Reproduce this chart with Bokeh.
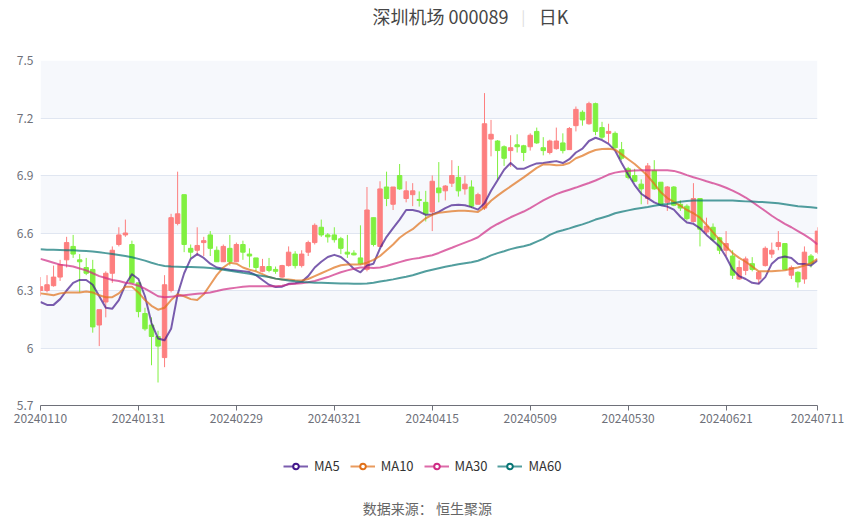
from bokeh.plotting import figure
from bokeh.layouts import column
from bokeh.models import (Range1d, FixedTicker, PrintfTickFormatter, Legend,
                          LegendItem, Label, ColumnDataSource)
from bokeh.embed import file_html
from bokeh.resources import INLINE

dates = [
    "20240110", "20240111", "20240112", "20240115", "20240116", "20240117", "20240118", "20240119",
    "20240122", "20240123", "20240124", "20240125", "20240126", "20240129", "20240130", "20240131",
    "20240201", "20240202", "20240205", "20240206", "20240207", "20240208", "20240219", "20240220",
    "20240221", "20240222", "20240223", "20240226", "20240227", "20240228", "20240229",
    "20240301", "20240304", "20240305", "20240306", "20240307", "20240308", "20240311", "20240312",
    "20240313", "20240314", "20240315", "20240318", "20240319", "20240320", "20240321",
    "20240322", "20240325", "20240326", "20240327", "20240328", "20240329",
    "20240401", "20240402", "20240403", "20240408", "20240409", "20240410", "20240411", "20240412",
    "20240415", "20240416", "20240417", "20240418", "20240419", "20240422", "20240423", "20240424",
    "20240425", "20240426", "20240429", "20240430",
    "20240506", "20240507", "20240508", "20240509", "20240510", "20240513", "20240514", "20240515",
    "20240516", "20240517", "20240520", "20240521", "20240522", "20240523", "20240524", "20240527",
    "20240528", "20240529", "20240530", "20240531",
    "20240603", "20240604", "20240605", "20240606", "20240607", "20240611", "20240612", "20240613",
    "20240614", "20240617", "20240618", "20240619", "20240620", "20240621", "20240624", "20240625",
    "20240626", "20240627", "20240628",
    "20240701", "20240702", "20240703", "20240704", "20240705", "20240708", "20240709", "20240710",
    "20240711",
]

open_ = [6.30, 6.30, 6.325, 6.37, 6.46, 6.53, 6.46, 6.42, 6.41, 6.12,
         6.24, 6.39, 6.54, 6.59, 6.54, 6.34, 6.18, 6.12, 6.06, 5.95,
         6.30, 6.65, 6.80, 6.52, 6.51, 6.55, 6.59, 6.51, 6.45, 6.52,
         6.45, 6.54, 6.49, 6.47, 6.40, 6.425, 6.41, 6.37, 6.43, 6.49,
         6.43, 6.50, 6.55, 6.63, 6.59, 6.59, 6.57, 6.50, 6.495, 6.47,
         6.41, 6.68, 6.53, 6.84, 6.75, 6.90, 6.78, 6.80, 6.775, 6.76,
         6.71, 6.835, 6.82, 6.86, 6.89, 6.83, 6.84, 6.75, 6.73, 7.09,
         7.08, 7.05, 7.03, 7.06, 7.055, 7.05, 7.13, 7.045, 7.02, 7.04,
         7.07, 7.035, 7.16, 7.23, 7.17, 7.275, 7.15, 7.12, 7.12, 7.035,
         6.935, 6.90, 6.855, 6.78, 6.925, 6.865, 6.76, 6.84, 6.75, 6.74,
         6.66, 6.78, 6.605, 6.63, 6.575, 6.51, 6.48, 6.36, 6.405, 6.44,
         6.36, 6.43, 6.49, 6.53, 6.545, 6.38, 6.395, 6.36, 6.48, 6.50]
high = [6.37, 6.38, 6.43, 6.46, 6.58, 6.59, 6.49, 6.47, 6.46, 6.20,
        6.40, 6.53, 6.63, 6.67, 6.56, 6.34, 6.21, 6.16, 6.09, 6.38,
        6.70, 6.92, 6.80, 6.54, 6.63, 6.58, 6.61, 6.53, 6.54, 6.59,
        6.55, 6.56, 6.52, 6.47, 6.465, 6.47, 6.425, 6.434, 6.53, 6.505,
        6.51, 6.56, 6.65, 6.67, 6.60, 6.63, 6.58, 6.59, 6.51, 6.64,
        6.84, 6.68, 6.87, 6.92, 6.84, 6.96, 6.87, 6.86, 6.817, 6.82,
        6.90, 6.97, 6.85, 6.98, 6.95, 6.90, 6.875, 6.81, 7.33, 7.19,
        7.085, 7.057, 7.11, 7.115, 7.06, 7.12, 7.15, 7.10, 7.087, 7.15,
        7.12, 7.153, 7.26, 7.24, 7.285, 7.28, 7.18, 7.17, 7.13, 7.075,
        6.945, 6.935, 6.88, 6.965, 6.98, 6.865, 6.845, 6.845, 6.77, 6.75,
        6.86, 6.78, 6.68, 6.65, 6.58, 6.61, 6.51, 6.457, 6.477, 6.474,
        6.40, 6.53, 6.55, 6.61, 6.545, 6.43, 6.40, 6.53, 6.49, 6.63]
low = [6.27, 6.29, 6.32, 6.35, 6.42, 6.47, 6.29, 6.38, 6.08, 6.01,
       6.16, 6.34, 6.53, 6.58, 6.34, 6.16, 6.09, 5.91, 5.82, 5.90,
       6.29, 6.64, 6.50, 6.47, 6.48, 6.48, 6.48, 6.45, 6.45, 6.43,
       6.45, 6.46, 6.42, 6.40, 6.395, 6.395, 6.387, 6.366, 6.425, 6.415,
       6.42, 6.48, 6.54, 6.58, 6.55, 6.55, 6.49, 6.47, 6.483, 6.435,
       6.40, 6.53, 6.53, 6.74, 6.72, 6.825, 6.76, 6.74, 6.738, 6.66,
       6.61, 6.76, 6.77, 6.84, 6.79, 6.80, 6.73, 6.75, 6.72, 7.00,
       6.88, 6.95, 6.945, 7.02, 6.975, 7.03, 7.065, 7.005, 7.01, 7.035,
       7.015, 7.035, 7.13, 7.16, 7.165, 7.11, 7.09, 7.07, 7.04, 6.98,
       6.88, 6.865, 6.75, 6.75, 6.825, 6.745, 6.715, 6.74, 6.715, 6.665,
       6.655, 6.53, 6.595, 6.557, 6.49, 6.48, 6.36, 6.355, 6.38, 6.40,
       6.335, 6.425, 6.47, 6.51, 6.41, 6.36, 6.315, 6.335, 6.42, 6.49]
close = [6.32, 6.33, 6.37, 6.435, 6.55, 6.49, 6.45, 6.39, 6.11, 6.20,
         6.39, 6.51, 6.59, 6.60, 6.34, 6.19, 6.10, 6.06, 6.01, 6.33,
         6.68, 6.70, 6.54, 6.50, 6.535, 6.56, 6.52, 6.45, 6.53, 6.45,
         6.54, 6.50, 6.48, 6.42, 6.425, 6.405, 6.40, 6.43, 6.50, 6.43,
         6.49, 6.55, 6.64, 6.59, 6.58, 6.565, 6.52, 6.49, 6.486, 6.44,
         6.72, 6.54, 6.83, 6.78, 6.84, 6.83, 6.82, 6.82, 6.77, 6.70,
         6.87, 6.81, 6.845, 6.90, 6.82, 6.855, 6.74, 6.80, 7.17, 7.115,
         7.03, 6.99, 7.045, 7.05, 7.02, 7.11, 7.07, 7.03, 7.08, 7.08,
         7.03, 7.145, 7.245, 7.19, 7.275, 7.13, 7.10, 7.13, 7.045, 6.99,
         6.89, 6.87, 6.83, 6.95, 6.83, 6.75, 6.84, 6.745, 6.73, 6.675,
         6.78, 6.62, 6.635, 6.565, 6.51, 6.545, 6.38, 6.42, 6.465, 6.41,
         6.395, 6.52, 6.51, 6.55, 6.41, 6.42, 6.345, 6.50, 6.44, 6.61]

ma5 = [6.24, 6.225, 6.225, 6.255, 6.30, 6.34, 6.355, 6.355, 6.33, 6.27,
       6.21, 6.205, 6.25, 6.33, 6.385, 6.36, 6.27, 6.13, 6.05, 6.04,
       6.10, 6.28, 6.39, 6.465, 6.49, 6.47, 6.44, 6.42, 6.413, 6.408,
       6.404, 6.40, 6.396, 6.38, 6.355, 6.33, 6.318, 6.32, 6.335, 6.338,
       6.345, 6.375, 6.42, 6.45, 6.475, 6.486, 6.475, 6.447, 6.413, 6.395,
       6.43, 6.44, 6.52, 6.58, 6.625, 6.67, 6.72, 6.72, 6.712, 6.695,
       6.697, 6.71, 6.73, 6.745, 6.748, 6.745, 6.735, 6.722, 6.755, 6.82,
       6.875, 6.93, 6.965, 6.935, 6.935, 6.95, 6.963, 6.965, 6.97, 6.975,
       6.965, 6.985, 7.02, 7.04, 7.08, 7.097, 7.085, 7.065, 7.03, 6.965,
       6.905, 6.85, 6.805, 6.782, 6.76, 6.745, 6.738, 6.722, 6.685, 6.655,
       6.648, 6.625, 6.59, 6.56, 6.53, 6.475, 6.41, 6.375, 6.36, 6.34,
       6.335, 6.37, 6.44, 6.47, 6.477, 6.47, 6.44, 6.438, 6.43, 6.457]
ma10 = [6.285, 6.28, 6.275, 6.285, 6.29, 6.29, 6.29, 6.295, 6.29, 6.275,
        6.265, 6.265, 6.285, 6.32, 6.32, 6.29, 6.25, 6.22, 6.20, 6.21,
        6.25, 6.28, 6.27, 6.255, 6.25, 6.28, 6.33, 6.38, 6.42, 6.445,
        6.44, 6.42, 6.408, 6.40, 6.385, 6.37, 6.362, 6.357, 6.357, 6.353,
        6.352, 6.36, 6.375, 6.39, 6.405, 6.42, 6.432, 6.436, 6.436, 6.436,
        6.445, 6.46, 6.48, 6.51, 6.54, 6.575, 6.60, 6.62, 6.65, 6.677,
        6.695, 6.705, 6.71, 6.714, 6.716, 6.716, 6.714, 6.71, 6.733, 6.768,
        6.795, 6.82, 6.843, 6.867, 6.89, 6.915, 6.94, 6.958, 6.957, 6.953,
        6.955, 6.965, 6.99, 7.003, 7.02, 7.033, 7.038, 7.04, 7.035, 7.01,
        6.985, 6.96, 6.93, 6.897, 6.857, 6.812, 6.782, 6.762, 6.742, 6.72,
        6.703, 6.68, 6.643, 6.603, 6.565, 6.53, 6.495, 6.47, 6.45, 6.425,
        6.40, 6.40, 6.40, 6.403, 6.405, 6.413, 6.42, 6.43, 6.443, 6.465]
ma30 = [6.465, 6.455, 6.445, 6.435, 6.43, 6.425, 6.415, 6.405, 6.39, 6.375,
        6.365, 6.355, 6.35, 6.34, 6.335, 6.325, 6.31, 6.29, 6.27, 6.265,
        6.268, 6.271, 6.275, 6.279, 6.283, 6.286, 6.29, 6.297, 6.305, 6.31,
        6.315, 6.32, 6.322, 6.322, 6.322, 6.322, 6.322, 6.325, 6.332, 6.335,
        6.338, 6.343, 6.35, 6.36, 6.37, 6.383, 6.395, 6.405, 6.413, 6.42,
        6.42, 6.418, 6.42, 6.428, 6.438, 6.448, 6.458, 6.465, 6.47, 6.477,
        6.484, 6.496, 6.51, 6.523, 6.537, 6.55, 6.563, 6.578, 6.603, 6.628,
        6.647, 6.665, 6.682, 6.697, 6.712, 6.73, 6.75, 6.77, 6.787, 6.803,
        6.815, 6.826, 6.837, 6.849, 6.861, 6.874, 6.889, 6.905, 6.915, 6.921,
        6.924, 6.926, 6.927, 6.927, 6.927, 6.927, 6.927, 6.924, 6.914, 6.902,
        6.891, 6.881, 6.87, 6.86, 6.849, 6.836, 6.821, 6.804, 6.785, 6.762,
        6.738, 6.715, 6.69, 6.668, 6.648, 6.63, 6.61, 6.59, 6.568, 6.54]
ma60 = [6.515, 6.513, 6.512, 6.511, 6.51, 6.51, 6.508, 6.506, 6.504, 6.50,
        6.495, 6.49, 6.485, 6.48, 6.473, 6.465, 6.456, 6.445, 6.435, 6.428,
        6.425, 6.424, 6.423, 6.422, 6.421, 6.42, 6.418, 6.414, 6.408, 6.403,
        6.398, 6.392, 6.387, 6.381, 6.376, 6.37, 6.362, 6.357, 6.352, 6.348,
        6.345, 6.343, 6.341, 6.34, 6.339, 6.338, 6.337, 6.336, 6.335, 6.335,
        6.337, 6.341, 6.347, 6.352, 6.358, 6.365, 6.372, 6.38, 6.39, 6.40,
        6.408, 6.416, 6.424, 6.43, 6.437, 6.442, 6.447, 6.455, 6.468, 6.483,
        6.495, 6.505, 6.516, 6.524, 6.531, 6.54, 6.555, 6.569, 6.59, 6.605,
        6.614, 6.624, 6.635, 6.645, 6.657, 6.67, 6.68, 6.69, 6.703, 6.711,
        6.718, 6.725, 6.731, 6.736, 6.742, 6.747, 6.751, 6.757, 6.763, 6.767,
        6.769, 6.77, 6.77, 6.77, 6.77, 6.77, 6.769, 6.767, 6.765, 6.764,
        6.762, 6.761, 6.758, 6.755, 6.75, 6.745, 6.74, 6.737, 6.734, 6.731]

y_ticks = [5.7, 6.0, 6.3, 6.6, 6.9, 7.2, 7.5]
ma_names = ["MA5", "MA10", "MA30", "MA60"]
ma_colors = ["#43188c", "#e0701a", "#cf2c85", "#087575"]
UP, DOWN = "#fd7f7f", "#80f040"
title_main, title_period = "深圳机场 000089", "日K"
source_text = "数据来源：  恒生聚源"

FONT = "Noto Sans CJK SC"
W = 850
idx = list(range(len(dates)))


def blank(h):
    f = figure(width=W, height=h, output_backend="svg", toolbar_location=None,
               x_range=Range1d(0, W), y_range=Range1d(0, h), min_border=0,
               x_axis_location=None, y_axis_location=None)
    f.grid.visible = False
    f.outline_line_color = None
    f.background_fill_color = "white"
    f.border_fill_color = "white"
    return f


# ---------- title strip ----------
top = blank(40)
top.add_layout(Label(x=512, y=24.5, text=title_main, text_align="right", text_baseline="middle",
                     text_font=FONT, text_font_size="18px", text_color="#464646"))
top.add_layout(Label(x=528, y=24.5, text="|", text_align="center", text_baseline="middle",
                     text_font=FONT, text_font_size="15px", text_color="#dddddd"))
top.add_layout(Label(x=545, y=24.5, text=title_period, text_align="left", text_baseline="middle",
                     text_font=FONT, text_font_size="18px", text_color="#464646"))

# ---------- main chart ----------
p = figure(width=W, height=390, output_backend="svg", toolbar_location=None,
           x_range=Range1d(0, len(dates) - 1), y_range=Range1d(y_ticks[0], y_ticks[-1]),
           min_border_left=40, min_border_right=33, min_border_top=20, min_border_bottom=25)
p.outline_line_color = None
p.background_fill_color = "white"
p.border_fill_color = "white"

p.yaxis.ticker = FixedTicker(ticks=y_ticks)
p.yaxis.formatter = PrintfTickFormatter(format="%g")
p.yaxis.axis_line_color = None
p.yaxis.major_tick_line_color = None
p.yaxis.major_tick_out = 0
p.yaxis.major_tick_in = 0
p.yaxis.minor_tick_line_color = None
p.yaxis.major_label_text_color = "#6E7079"
p.yaxis.major_label_text_font = FONT
p.yaxis.major_label_text_font_size = "12px"
p.yaxis.major_label_standoff = 7
p.ygrid.ticker = FixedTicker(ticks=y_ticks)
p.ygrid.grid_line_color = "#E0E6F1"
p.ygrid.band_fill_color = "#d2dbee"
p.ygrid.band_fill_alpha = 0.2
p.xgrid.grid_line_color = None

xt = list(range(0, len(dates), 15))
if xt[-1] != len(dates) - 1:
    xt.append(len(dates) - 1)
p.xaxis.ticker = FixedTicker(ticks=xt)
p.xaxis.major_label_overrides = {i: dates[i] for i in xt}
p.xaxis.axis_line_color = "#6E7079"
p.xaxis.major_tick_line_color = "#6E7079"
p.xaxis.major_tick_in = 0
p.xaxis.major_tick_out = 5
p.xaxis.minor_tick_line_color = None
p.xaxis.major_label_text_color = "#6E7079"
p.xaxis.major_label_text_font = FONT
p.xaxis.major_label_text_font_size = "12px"
p.xaxis.major_label_standoff = 3

colors = [UP if c >= o else DOWN for o, c in zip(open_, close)]
src = ColumnDataSource(dict(
    x=idx, high=high, low=low,
    top=[max(o, c) for o, c in zip(open_, close)],
    bottom=[min(o, c) for o, c in zip(open_, close)],
    color=colors))
p.segment(x0="x", y0="low", x1="x", y1="high", line_color="color", line_width=1, source=src)
p.vbar(x="x", width=0.68, top="top", bottom="bottom", fill_color="color",
       line_color="color", line_width=1, source=src)

for vals, col in zip([ma5, ma10, ma30, ma60], ma_colors):
    p.line(idx, vals, line_color=col, line_alpha=0.7, line_width=2, line_join="round")

# ---------- legend + source strip ----------
bot = blank(87)
items = []
off = [-1000]  # legend-only renderers, placed outside the strip
for name, col in zip(ma_names, ma_colors):
    lr = bot.line(x=off, y=off, line_color=col, line_alpha=0.7, line_width=2)
    dr = bot.scatter(x=off, y=off, marker="circle", size=9, fill_color="white",
                     line_color=col, line_width=2)
    items.append(LegendItem(label=name, renderers=[lr, dr]))
legend = Legend(items=items, orientation="horizontal", location=(243, 42),
                glyph_width=25, glyph_height=14, label_height=14,
                label_text_font_size="13px", label_text_color="#333333",
                label_text_font=FONT, label_standoff=6, spacing=10, padding=5, margin=0,
                border_line_color=None, background_fill_alpha=0)
bot.add_layout(legend)
bot.add_layout(Label(x=425, y=10, text=source_text, text_align="center", text_baseline="middle",
                     text_font=FONT, text_font_size="14px", text_color="#666666"))

layout = column(top, p, bot, spacing=0)
open("out.html", "w").write(file_html(layout, INLINE))
